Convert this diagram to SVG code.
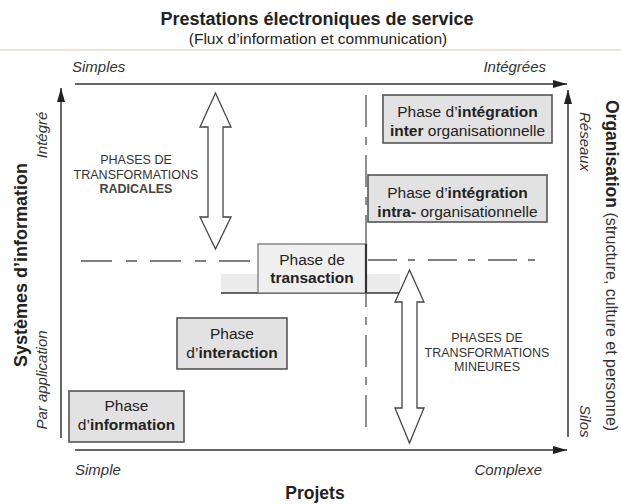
<svg xmlns="http://www.w3.org/2000/svg" width="621" height="504" viewBox="0 0 621 504">
<defs>
<style>
text{font-family:"Liberation Sans",Arial,Helvetica,sans-serif;fill:#222}
.b{font-weight:bold}
.it{font-style:italic}
.box{fill:#e2e2e2;stroke:#555;stroke-width:1.6}
.bt{font-size:15.5px;text-anchor:middle}
.tr{font-size:12.5px;text-anchor:middle;fill:#333}
.axis{stroke:#333;stroke-width:1.5;fill:none}
.dash{stroke:#555;stroke-width:1.3;fill:none}
.dbl{fill:#fff;stroke:#444;stroke-width:1.3;stroke-linejoin:miter}
.lbl{font-size:15px;font-style:italic;fill:#333}
</style>
<marker id="ah" markerUnits="userSpaceOnUse" markerWidth="14" markerHeight="8" refX="14" refY="4" orient="auto">
<path d="M0,0 L14,4 L0,8 z" fill="#222"/>
</marker>
</defs>
<rect width="621" height="504" fill="#fff"/>
<line x1="0" y1="50" x2="621" y2="50" stroke="#efd6ca" stroke-width="1.5"/>

<g id="titles">
<text x="317" y="25" class="b" font-size="18" text-anchor="middle">Prestations électroniques de service</text>
<text x="318" y="44" font-size="15.5" text-anchor="middle">(Flux d’information et communication)</text>
<text x="72" y="72" class="lbl">Simples</text>
<text x="546" y="72" class="lbl" text-anchor="end">Intégrées</text>
<text x="75" y="475" class="lbl">Simple</text>
<text x="542" y="475" class="lbl" text-anchor="end">Complexe</text>
<text x="315" y="499" class="b" font-size="17.5" text-anchor="middle">Projets</text>
<text transform="translate(27,265) rotate(-90)" class="b" font-size="18" text-anchor="middle">Systèmes d’information</text>
<text transform="translate(47,135) rotate(-90)" class="lbl" text-anchor="middle">Intégré</text>
<text transform="translate(47,380) rotate(-90)" class="lbl" font-size="15.5" text-anchor="middle">Par application</text>
<text transform="translate(606,100) rotate(90)"><tspan class="b" font-size="17.5">Organisation</tspan><tspan font-size="16" fill="#333"> (structure, culture et personne)</tspan></text>
<text transform="translate(580,112) rotate(90)" class="lbl" font-size="15.5">Réseaux</text>
<text transform="translate(580,405) rotate(90)" class="lbl">Silos</text>
<text class="tr"><tspan x="136" y="164">PHASES DE</tspan><tspan x="136" y="178.5">TRANSFORMATIONS</tspan><tspan x="136" y="193" font-weight="bold" fill="#444">RADICALES</tspan></text>
<text class="tr"><tspan x="487" y="342">PHASES DE</tspan><tspan x="487" y="356.5">TRANSFORMATIONS</tspan><tspan x="487" y="371">MINEURES</tspan></text>
</g>

<g id="connectors">
<line class="axis" x1="75" y1="84" x2="567" y2="84" marker-end="url(#ah)"/>
<line class="axis" x1="75" y1="450" x2="567" y2="450" marker-end="url(#ah)"/>
<line class="axis" x1="61" y1="438" x2="61" y2="88" marker-end="url(#ah)"/>
<line class="axis" x1="568" y1="437" x2="568" y2="90" marker-end="url(#ah)"/>
<line class="dash" x1="81" y1="261" x2="258" y2="261" stroke-dasharray="31 14 11 13"/>
<line class="dash" x1="368" y1="260" x2="537" y2="260" stroke-dasharray="29 11 7 13"/>
<line class="dash" x1="366" y1="95" x2="366" y2="437" stroke-dasharray="32 10 8 10"/>
<rect x="221" y="274" width="179" height="19" fill="#ececec"/>
<line x1="221" y1="293" x2="400" y2="293" stroke="#333" stroke-width="1.6"/>
<polygon class="dbl" points="215.5,93 231,127 223,127 223,217 231,217 215.5,249 200,217 208,217 208,127 200,127"/>
<polygon class="dbl" points="409.5,270 424,302 417,302 417,408 424,408 409.5,443 395,408 402,408 402,302 395,302"/>
</g>

<g id="n-information">
<rect class="box" x="69" y="391" width="115" height="51"/>
<text class="bt"><tspan x="126.5" y="411">Phase</tspan><tspan x="126.5" y="429.5">d’<tspan class="b">information</tspan></tspan></text>
</g>
<g id="n-interaction">
<rect class="box" x="177" y="318" width="110" height="51"/>
<text class="bt"><tspan x="232" y="338.5">Phase</tspan><tspan x="232" y="358">d’<tspan class="b">interaction</tspan></tspan></text>
</g>
<g id="n-transaction">
<rect x="258" y="244" width="108" height="49" fill="#efefef" stroke="#777" stroke-width="1.3"/>
<line x1="366" y1="244" x2="366" y2="293" stroke="#333" stroke-width="2.2"/>
<text class="bt"><tspan x="312" y="264.5">Phase de</tspan><tspan x="312" y="282.5" class="b">transaction</tspan></text>
</g>
<g id="n-intra">
<rect class="box" x="368" y="175" width="179" height="47"/>
<text class="bt"><tspan x="457.5" y="198">Phase d’<tspan class="b">intégration</tspan></tspan><tspan x="457.5" y="216.5"><tspan class="b">intra-</tspan> organisationnelle</tspan></text>
</g>
<g id="n-inter">
<rect class="box" x="383" y="95" width="169" height="48"/>
<text class="bt"><tspan x="467.5" y="117">Phase d’<tspan class="b">intégration</tspan></tspan><tspan x="467.5" y="136"><tspan class="b">inter</tspan> organisationnelle</tspan></text>
</g>
</svg>
